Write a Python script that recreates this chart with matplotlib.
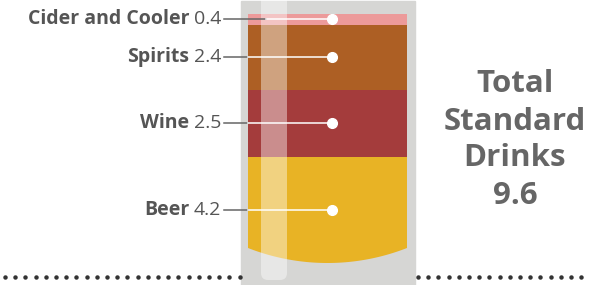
import numpy as np
import matplotlib
matplotlib.use("Agg")
import matplotlib.pyplot as plt
from matplotlib.patches import Rectangle, Polygon, FancyBboxPatch

drinks = ["Cider and Cooler", "Spirits", "Wine", "Beer"]
values = [0.4, 2.4, 2.5, 4.2]
colors = ["#ec9a9a", "#ad5f24", "#a43c3c", "#e8b325"]
total = 9.6
total_lines = ["Total", "Standard", "Drinks", f"{total}"]

fig = plt.figure(figsize=(5.9, 2.85), dpi=100)
ax = fig.add_axes([0, 0, 1, 1])
ax.set_xlim(0, 590)
ax.set_ylim(285, 0)
ax.axis("off")

# dotted base line
dl = np.arange(5, 240, 10.2)
dr = np.arange(418, 590, 10.2)
ax.plot(dl, np.full(len(dl), 277), ls="none", marker="o", ms=2.2, color="#333333")
ax.plot(dr, np.full(len(dr), 277), ls="none", marker="o", ms=2.2, color="#333333")

# glass
ax.add_patch(Rectangle((241, 1), 174, 290, color="#d6d6d4", zorder=1))

# liquid shape: flat top, curved bottom
left, right, top, bot_side, bot_mid = 248, 407, 14, 248, 263
half = (right - left) / 2
sag = bot_mid - bot_side
R = (half**2 + sag**2) / (2 * sag)
cx, cy = left + half, bot_mid - R
xs = np.linspace(right, left, 60)
ys = cy + np.sqrt(R**2 - (xs - cx)**2)
clip = Polygon([(left, 0), (right, 0)] + list(zip(xs, ys)), closed=True,
               transform=ax.transData, facecolor="none", edgecolor="none")
ax.add_patch(clip)

# stack from the top of the glass downward
k = 27.0
heights = [v * k for v in values]
tops = [top + sum(heights[:i]) for i in range(len(values))]
bars = ax.bar([cx] * 4, heights, bottom=tops, width=right - left,
              color=colors, zorder=2)
for b in bars:
    b.set_clip_path(clip)

# highlight strip
ax.add_patch(FancyBboxPatch((261, -10), 26, 290, boxstyle="round,pad=0,rounding_size=7",
                            facecolor="white", edgecolor="none", alpha=0.42, zorder=3))

# labels and leaders
for i, (name, v) in enumerate(zip(drinks, values)):
    y = (tops[i] + min(tops[i] + heights[i], bot_mid)) / 2
    gray_end = 266 if i == 0 else 248
    ax.plot([224, gray_end], [y, y], color="#666666", lw=1.1, zorder=4)
    ax.plot([gray_end, 332], [y, y], color="white", lw=1.1, zorder=4)
    ax.plot(332, y, marker="o", ms=7, color="white", zorder=5)
    vt = ax.text(221, y, f"{v}", ha="right", va="center", fontsize=14,
                 color="#555555", family="Open Sans")
    ax.annotate(name, xy=(0, 0.5), xycoords=vt, xytext=(-3, 0),
                textcoords="offset points", ha="right", va="center",
                fontsize=14, fontweight="bold", color="#555555", family="Open Sans")

for line, y in zip(total_lines, [81, 118, 155, 192]):
    ax.text(515, y, line, ha="center", va="center_baseline", fontsize=22.5,
            fontweight="bold", color="#666666", family="Open Sans")

fig.savefig("out.png", dpi=100)
plt.close(fig)
